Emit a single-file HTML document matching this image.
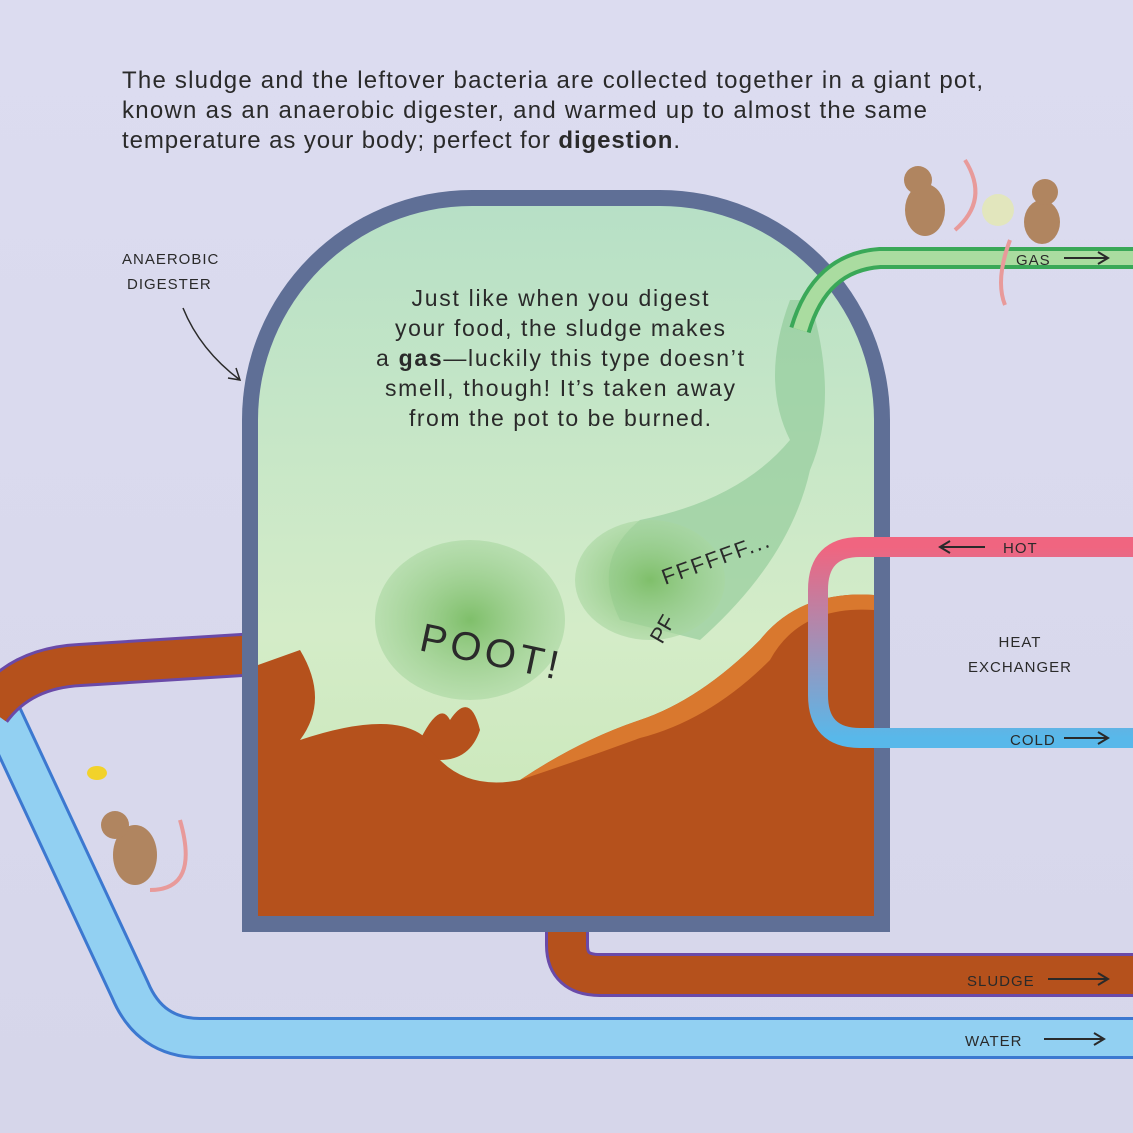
<!DOCTYPE html>
<html><head><meta charset="utf-8"><style>
html,body{margin:0;padding:0;background:#dcdcee;}
svg{display:block}
.t{font-family:"Liberation Sans",sans-serif;fill:#2a2a2a}
.lab{font-family:"Liberation Sans",sans-serif;fill:#2a2a2a;font-size:15px;letter-spacing:1px}
</style></head><body>
<svg width="1133" height="1133" viewBox="0 0 1133 1133" xmlns="http://www.w3.org/2000/svg">
<defs>
<linearGradient id="bg" x1="0" y1="0" x2="0" y2="1"><stop offset="0" stop-color="#dcdcf0"/><stop offset="1" stop-color="#d6d6ea"/></linearGradient>
<linearGradient id="gr" x1="0" y1="0" x2="0" y2="1"><stop offset="0" stop-color="#b7e0c6"/><stop offset="0.6" stop-color="#d4ecc8"/><stop offset="1" stop-color="#c6e6b4"/></linearGradient>
<linearGradient id="hx" x1="0" y1="0" x2="0" y2="1"><stop offset="0" stop-color="#f06580"/><stop offset="1" stop-color="#58b8ea"/></linearGradient>
<radialGradient id="cl"><stop offset="0" stop-color="#7fbf6a"/><stop offset="1" stop-color="#a8d6a0" stop-opacity="0.6"/></radialGradient>
</defs>
<rect width="1133" height="1133" fill="url(#bg)"/>
<text class="t" font-size="24"><tspan x="122" y="88" textLength="861" lengthAdjust="spacing">The sludge and the leftover bacteria are collected together in a giant pot,</tspan><tspan x="122" y="118" textLength="805" lengthAdjust="spacing">known as an anaerobic digester, and warmed up to almost the same</tspan><tspan x="122" y="148" textLength="558" lengthAdjust="spacing">temperature as your body; perfect for <tspan font-weight="bold">digestion</tspan>.</tspan></text>

<!-- water pipe -->
<path d="M-10 690 L130 990 Q150 1038 200 1038 L1133 1038" fill="none" stroke="#3c78d0" stroke-width="42"/>
<path d="M-10 690 L130 990 Q150 1038 200 1038 L1133 1038" fill="none" stroke="#92d0f2" stroke-width="36"/>
<!-- sludge out -->
<path d="M567 900 L567 945 Q567 975 600 975 L1133 975" fill="none" stroke="#6a4aa8" stroke-width="44"/>
<path d="M567 900 L567 945 Q567 975 600 975 L1133 975" fill="none" stroke="#b5511c" stroke-width="38"/>
<!-- sludge in -->
<path d="M-10 710 Q20 668 80 665 L290 652" fill="none" stroke="#6a4aa8" stroke-width="44"/>
<path d="M-10 710 Q20 668 80 665 L290 652" fill="none" stroke="#b5511c" stroke-width="38"/>

<!-- digester -->
<path d="M242 932 L242 420 A230 230 0 0 1 472 190 L660 190 A230 230 0 0 1 890 420 L890 932 Z" fill="#5f6f96"/>
<path d="M258 916 L258 420 A214 214 0 0 1 472 206 L660 206 A214 214 0 0 1 874 420 L874 916 Z" fill="url(#gr)"/>
<!-- gas plume -->
<path d="M790 300 Q760 380 790 440 Q740 500 640 520 Q590 560 620 620 L700 640 Q790 560 810 470 Q840 400 810 300 Z" fill="#8cc894" opacity="0.6"/>
<ellipse cx="470" cy="620" rx="95" ry="80" fill="url(#cl)"/>
<ellipse cx="650" cy="580" rx="75" ry="60" fill="url(#cl)"/>
<!-- sludge -->
<path d="M258 665 L300 650 Q330 700 300 740 Q420 700 440 760 Q470 790 520 780 Q580 740 640 720 Q700 700 760 640 Q800 590 874 595 L874 916 L258 916 Z" fill="#b5511c"/>
<path d="M520 780 Q580 740 640 720 Q700 700 760 640 Q800 590 874 595 L874 610 Q800 605 770 660 Q710 720 640 738 Q580 760 520 780Z" fill="#d9782e"/>
<path d="M420 740 Q440 700 450 720 Q470 690 480 730 Q470 760 440 760Z" fill="#b5511c"/>

<!-- gas pipe (over dome) -->
<path d="M800 330 Q820 262 880 258 L1133 258" fill="none" stroke="#3aa858" stroke-width="22"/>
<path d="M800 330 Q820 262 880 258 L1133 258" fill="none" stroke="#aadca0" stroke-width="14"/>
<!-- heat exchanger -->
<path d="M1133 547 L860 547 Q818 547 818 590 L818 695 Q818 738 860 738 L1133 738" fill="none" stroke="url(#hx)" stroke-width="20"/>

<text class="t" font-size="23" text-anchor="middle"><tspan x="560" y="306" textLength="297" lengthAdjust="spacing">Just like when you digest</tspan><tspan x="560" y="336" textLength="330" lengthAdjust="spacing">your food, the sludge makes</tspan><tspan x="560" y="366" textLength="368" lengthAdjust="spacing">a <tspan font-weight="bold">gas</tspan>—luckily this type doesn’t</tspan><tspan x="560" y="396" textLength="350" lengthAdjust="spacing">smell, though! It’s taken away</tspan><tspan x="560" y="426" textLength="302" lengthAdjust="spacing">from the pot to be burned.</tspan></text>
<text class="t" font-size="40" transform="translate(418 650) rotate(12)" letter-spacing="4">POOT!</text>
<text class="t" font-size="22" transform="translate(662 645) rotate(-60)">PF</text>
<text class="t" font-size="22" transform="translate(665 585) rotate(-20)" letter-spacing="2">FFFFFF...</text>

<!-- labels -->
<text class="lab"><tspan x="122" y="264">ANAEROBIC</tspan><tspan x="127" y="289">DIGESTER</tspan></text>
<path d="M183 308 Q200 350 240 380 M228 378 L240 380 L236 368" fill="none" stroke="#2a2a2a" stroke-width="1.5"/>
<text class="lab" x="1016" y="265">GAS</text>
<path d="M1064 258 L1108 258 M1098 252 L1108 258 L1098 264" stroke="#2a2a2a" stroke-width="2" fill="none"/>
<text class="lab" x="1003" y="553">HOT</text>
<path d="M940 547 L985 547 M950 541 L940 547 L950 553" stroke="#2a2a2a" stroke-width="2" fill="none"/>
<text class="lab" x="1010" y="745">COLD</text>
<path d="M1064 738 L1108 738 M1098 732 L1108 738 L1098 744" stroke="#2a2a2a" stroke-width="2" fill="none"/>
<text class="lab" text-anchor="middle"><tspan x="1020" y="647">HEAT</tspan><tspan x="1020" y="672">EXCHANGER</tspan></text>
<text class="lab" x="967" y="986">SLUDGE</text>
<path d="M1048 979 L1108 979 M1098 973 L1108 979 L1098 985" stroke="#2a2a2a" stroke-width="2" fill="none"/>
<text class="lab" x="965" y="1046">WATER</text>
<path d="M1044 1039 L1104 1039 M1094 1033 L1104 1039 L1094 1045" stroke="#2a2a2a" stroke-width="2" fill="none"/>

<!-- rats -->
<g fill="#b08560">
<ellipse cx="925" cy="210" rx="20" ry="26"/><circle cx="918" cy="180" r="14"/>
<ellipse cx="1042" cy="222" rx="18" ry="22"/><circle cx="1045" cy="192" r="13"/>
<ellipse cx="135" cy="855" rx="22" ry="30"/><circle cx="115" cy="825" r="14"/>
</g>
<circle cx="998" cy="210" r="16" fill="#e3e8b0" opacity="0.8"/>
<path d="M955 230 Q990 200 965 160" fill="none" stroke="#e89a9a" stroke-width="4"/>
<path d="M1010 240 Q995 280 1005 305" fill="none" stroke="#e89a9a" stroke-width="4"/>
<path d="M150 890 Q200 890 180 820" fill="none" stroke="#e89a9a" stroke-width="4"/>
<ellipse cx="97" cy="773" rx="10" ry="7" fill="#f2d22a"/>
</svg>
</body></html>
